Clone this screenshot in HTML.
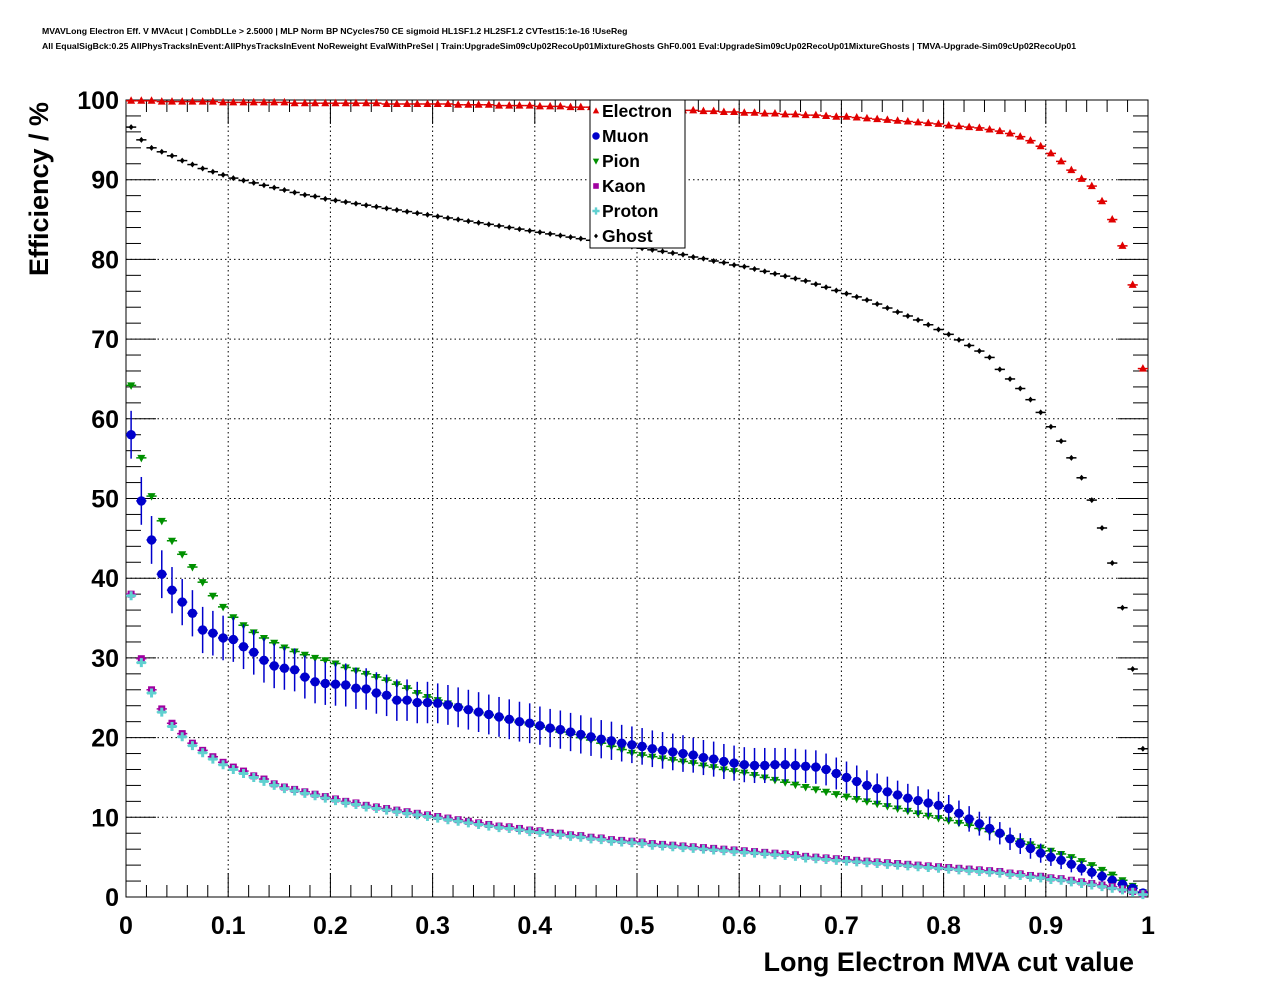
<!DOCTYPE html>
<html><head><meta charset="utf-8"><style>
body{margin:0;background:#fff;}
svg{display:block;font-family:"Liberation Sans",Arial,sans-serif;}
</style></head><body>
<svg id="chart" width="1276" height="996" viewBox="0 0 1276 996" xmlns="http://www.w3.org/2000/svg">
<rect width="1276" height="996" fill="#fff"/>
<text x="42" y="34" font-size="8.7" font-weight="bold">MVAVLong Electron Eff. V MVAcut | CombDLLe &gt; 2.5000 | MLP Norm BP NCycles750 CE sigmoid HL1SF1.2 HL2SF1.2 CVTest15:1e-16 !UseReg</text>
<text x="42" y="49" font-size="8.7" font-weight="bold">All EqualSigBck:0.25 AllPhysTracksInEvent:AllPhysTracksInEvent NoReweight EvalWithPreSel | Train:UpgradeSim09cUp02RecoUp01MixtureGhosts GhF0.001 Eval:UpgradeSim09cUp02RecoUp01MixtureGhosts | TMVA-Upgrade-Sim09cUp02RecoUp01</text>
<g id="grid"></g>
<g id="axes"></g>
<g id="series"></g>
<text x="48" y="189" font-size="27" font-weight="bold" text-anchor="middle" transform="rotate(-90 48 189)">Efficiency / %</text>
<text x="1134" y="971" font-size="27" font-weight="bold" text-anchor="end">Long Electron MVA cut value</text>
<g id="legend"></g>
</svg>
<script>
const xTicks = [0,0.1,0.2,0.3,0.4,0.5,0.6,0.7,0.8,0.9,1];
const xTickLabels = ["0","0.1","0.2","0.3","0.4","0.5","0.6","0.7","0.8","0.9","1"];
const yTicks = [0,10,20,30,40,50,60,70,80,90,100];
const yTickLabels = ["0","10","20","30","40","50","60","70","80","90","100"];
const nBins = 100;
const electron = [99.9,99.9,99.9,99.8,99.8,99.8,99.8,99.8,99.8,99.7,
99.7,99.7,99.7,99.7,99.7,99.7,99.6,99.6,99.6,99.6,
99.6,99.6,99.6,99.6,99.6,99.5,99.5,99.5,99.5,99.5,
99.5,99.5,99.4,99.4,99.4,99.4,99.3,99.3,99.3,99.3,
99.2,99.2,99.2,99.1,99.1,99.1,99.0,99.0,99.0,98.9,
98.9,98.9,98.8,98.8,98.7,98.7,98.6,98.6,98.5,98.5,
98.4,98.4,98.3,98.3,98.2,98.2,98.1,98.1,98.0,97.9,
97.9,97.8,97.7,97.6,97.5,97.4,97.3,97.2,97.1,97.0,
96.8,96.7,96.6,96.5,96.3,96.1,95.8,95.4,94.9,94.2,
93.3,92.3,91.2,90.1,89.2,87.3,85.0,81.7,76.8,66.3];
const muon = [58.0,49.7,44.8,40.5,38.5,37.0,35.6,33.5,33.1,32.5,
32.3,31.4,30.7,29.7,29.0,28.7,28.5,27.6,27.0,26.8,
26.7,26.6,26.2,26.1,25.6,25.3,24.7,24.7,24.4,24.4,
24.3,24.1,23.8,23.5,23.2,22.9,22.6,22.3,22.0,21.8,
21.5,21.2,21.0,20.7,20.4,20.1,19.8,19.6,19.3,19.1,
18.9,18.6,18.4,18.2,18.0,17.8,17.5,17.3,17.0,16.8,
16.6,16.5,16.5,16.6,16.6,16.5,16.4,16.3,16.0,15.5,
15.0,14.5,14.0,13.6,13.2,12.8,12.4,12.1,11.8,11.5,
11.1,10.5,9.8,9.2,8.6,8.0,7.3,6.7,6.1,5.5,
5.0,4.6,4.1,3.6,3.1,2.6,2.1,1.6,1.1,0.5];
const muonErr = [3.0,3.0,3.0,3.0,2.9,2.9,2.9,2.9,2.8,2.8,
2.8,2.8,2.8,2.8,2.8,2.7,2.7,2.7,2.7,2.7,
2.7,2.7,2.6,2.6,2.6,2.6,2.6,2.6,2.6,2.6,
2.5,2.5,2.5,2.5,2.5,2.5,2.5,2.5,2.5,2.5,
2.4,2.4,2.4,2.4,2.4,2.4,2.4,2.4,2.3,2.3,
2.3,2.3,2.3,2.3,2.3,2.2,2.2,2.2,2.2,2.2,
2.2,2.2,2.2,2.1,2.1,2.1,2.1,2.1,2.0,2.0,
2.0,2.0,1.9,1.9,1.9,1.8,1.8,1.8,1.7,1.7,
1.7,1.6,1.6,1.5,1.5,1.4,1.4,1.3,1.3,1.2,
1.1,1.1,1.0,0.9,0.8,0.7,0.6,0.5,0.4,0.3];
const pion = [64.2,55.1,50.3,47.2,44.7,43.0,41.4,39.5,37.8,36.4,
35.1,34.1,33.2,32.5,31.9,31.3,30.8,30.4,30.0,29.7,
29.3,28.8,28.4,28.0,27.6,27.2,26.7,26.2,25.6,25.1,
24.7,24.3,23.9,23.5,23.1,22.8,22.5,22.2,21.9,21.6,
21.3,21.0,20.7,20.4,20.0,19.7,19.3,18.9,18.5,18.1,
17.8,17.6,17.4,17.2,17.0,16.8,16.5,16.3,16.0,15.8,
15.6,15.3,15.0,14.7,14.4,14.1,13.8,13.5,13.2,12.9,
12.6,12.3,12.0,11.7,11.4,11.1,10.8,10.5,10.2,9.9,
9.6,9.3,9.0,8.6,8.2,7.8,7.4,7.0,6.6,6.2,
5.8,5.4,5.0,4.5,4.0,3.4,2.8,2.1,1.4,0.6];
const kaon = [38.0,29.9,26.0,23.6,21.8,20.5,19.3,18.4,17.6,16.9,
16.3,15.8,15.2,14.8,14.2,13.8,13.5,13.2,12.9,12.6,
12.3,12.0,11.8,11.5,11.3,11.1,10.9,10.7,10.5,10.3,
10.1,9.9,9.7,9.5,9.3,9.1,8.9,8.8,8.6,8.4,
8.3,8.1,8.0,7.8,7.7,7.5,7.4,7.2,7.1,7.0,
6.9,6.7,6.6,6.5,6.4,6.3,6.2,6.1,6.0,5.9,
5.8,5.7,5.6,5.5,5.4,5.3,5.1,5.0,4.9,4.8,
4.7,4.6,4.5,4.4,4.3,4.2,4.1,4.0,3.9,3.8,
3.7,3.6,3.5,3.4,3.3,3.2,3.0,2.9,2.7,2.6,
2.4,2.3,2.1,1.9,1.7,1.5,1.3,1.0,0.7,0.4];
const proton = [37.8,29.4,25.6,23.2,21.4,20.1,19.0,18.1,17.3,16.6,
16.0,15.5,15.0,14.5,14.0,13.6,13.3,13.0,12.7,12.4,
12.1,11.8,11.6,11.3,11.1,10.9,10.7,10.5,10.3,10.1,
9.9,9.7,9.5,9.3,9.1,8.9,8.7,8.6,8.4,8.2,
8.1,7.9,7.8,7.6,7.5,7.3,7.2,7.0,6.9,6.8,
6.7,6.5,6.4,6.3,6.2,6.1,6.0,5.9,5.8,5.7,
5.6,5.5,5.4,5.3,5.2,5.1,4.9,4.8,4.7,4.6,
4.5,4.4,4.3,4.2,4.1,4.0,3.9,3.8,3.7,3.6,
3.5,3.4,3.3,3.2,3.1,3.0,2.8,2.7,2.5,2.4,
2.2,2.1,1.9,1.7,1.5,1.3,1.1,0.9,0.6,0.3];
const ghost = [96.6,95.0,94.0,93.5,93.0,92.4,91.9,91.4,91.0,90.6,
90.2,89.9,89.6,89.3,89.0,88.7,88.4,88.1,87.9,87.6,
87.4,87.2,87.0,86.8,86.6,86.4,86.2,86.0,85.8,85.6,
85.4,85.2,85.0,84.8,84.6,84.4,84.2,84.0,83.8,83.6,
83.4,83.2,83.0,82.8,82.6,82.4,82.2,82.0,81.8,81.6,
81.4,81.2,81.0,80.8,80.6,80.3,80.1,79.8,79.6,79.3,
79.1,78.8,78.5,78.2,77.9,77.6,77.3,76.9,76.5,76.1,
75.7,75.3,74.9,74.4,73.9,73.4,72.9,72.4,71.8,71.2,
70.6,69.9,69.2,68.5,67.7,66.2,65.0,63.8,62.4,60.8,
59.0,57.2,55.1,52.6,49.8,46.3,41.9,36.3,28.6,18.6];

const NS = "http://www.w3.org/2000/svg";
const X0=126, X1=1148, Y0=897, Y1=100;
const xs = v => X0 + (X1-X0)*v;
const ys = v => Y0 - (Y0-Y1)*v/100;
function mk(tag, attrs, parent){
  const e=document.createElementNS(NS,tag);
  for(const k in attrs) e.setAttribute(k,attrs[k]);
  parent.appendChild(e); return e;
}
const grid=document.getElementById('grid'), axes=document.getElementById('axes'), series=document.getElementById('series'), legend=document.getElementById('legend');
xTicks.forEach((t,i)=>{ if(i>0&&i<xTicks.length-1){
  const l=mk('line',{x1:xs(t),x2:xs(t),y1:Y0,y2:Y1,stroke:'#000','stroke-width':1,'stroke-dasharray':'1.5,3'},grid);
  
  
}});
yTicks.forEach((t,i)=>{ if(i>0&&i<yTicks.length-1){
  const l=mk('line',{x1:X0,x2:X1,y1:ys(t),y2:ys(t),stroke:'#000','stroke-width':1,'stroke-dasharray':'1.5,3'},grid);
  
  
}});
const fr=mk('rect',{x:X0,y:Y1,width:X1-X0,height:Y0-Y1,fill:'none',stroke:'#000','stroke-width':1},axes);


for(let i=0;i<=50;i++){
  const v=i/50, len=(i%5===0)?24:12;
  mk('line',{x1:xs(v),x2:xs(v),y1:Y0,y2:Y0-len,stroke:'#000','stroke-width':1},axes);
  mk('line',{x1:xs(v),x2:xs(v),y1:Y1,y2:Y1+len,stroke:'#000','stroke-width':1},axes);
}
xTicks.forEach((t,i)=>{
  const tx=mk('text',{x:xs(t),y:934,'font-size':25,'font-weight':'bold','text-anchor':'middle'},axes);
  tx.textContent=xTickLabels[i];
  
  
});
for(let i=0;i<=50;i++){
  const v=i*2, len=(i%5===0)?30:15;
  mk('line',{x1:X0,x2:X0+len,y1:ys(v),y2:ys(v),stroke:'#000','stroke-width':1},axes);
  mk('line',{x1:X1,x2:X1-len,y1:ys(v),y2:ys(v),stroke:'#000','stroke-width':1},axes);
}
yTicks.forEach((t,i)=>{
  const tx=mk('text',{x:119,y:ys(t)+9,'font-size':25,'font-weight':'bold','text-anchor':'end'},axes);
  tx.textContent=yTickLabels[i];
  
  
});
function marker(type,cx,cy,color,parent){
  if(type==='tri-up') return mk('polygon',{points:`${cx},${cy-4.5} ${cx-4},${cy+3} ${cx+4},${cy+3}`,fill:color},parent);
  if(type==='tri-down') return mk('polygon',{points:`${cx},${cy+4.5} ${cx-4},${cy-3} ${cx+4},${cy-3}`,fill:color},parent);
  if(type==='circle') return mk('circle',{cx:cx,cy:cy,r:4.7,fill:color},parent);
  if(type==='square') return mk('rect',{x:cx-3.5,y:cy-3.5,width:7,height:7,fill:color},parent);
  if(type==='cross') return mk('path',{d:`M${cx-1.5},${cy-4.5}h3v3h3v3h-3v3h-3v-3h-3v-3h3z`,fill:color},parent);
  if(type==='diamond') return mk('polygon',{points:`${cx},${cy-3} ${cx-2.5},${cy} ${cx},${cy+3} ${cx+2.5},${cy}`,fill:color},parent);
}
const defs=[
 {name:'Electron',data:electron,err:null,color:'#e00000',type:'tri-up'},
 {name:'Muon',data:muon,err:muonErr,color:'#0000cc',type:'circle'},
 {name:'Pion',data:pion,err:null,color:'#009000',type:'tri-down'},
 {name:'Kaon',data:kaon,err:null,color:'#a000a0',type:'square'},
 {name:'Proton',data:proton,err:null,color:'#60d0d0',type:'cross'},
 {name:'Ghost',data:ghost,err:null,color:'#000000',type:'diamond'}
];
const drawOrder=[5,0,2,1,3,4];
drawOrder.forEach(si=>{
  const s=defs[si];
  const g=mk('g',{},series);
  
  
  s.data.forEach((v,i)=>{
    const xc=(i+0.5)/nBins;
    const cx=xs(xc), cy=ys(v);
    mk('line',{x1:xs(i/nBins),x2:xs((i+1)/nBins),y1:cy,y2:cy,stroke:s.color,'stroke-width':1.5},g);
    if(s.err){ mk('line',{x1:cx,x2:cx,y1:ys(v+s.err[i]),y2:ys(v-s.err[i]),stroke:s.color,'stroke-width':1.5},g); }
    const m=marker(s.type,cx,cy,s.color,g);
    
    
  });
});
const lb=mk('rect',{x:590,y:100,width:95,height:148,fill:'#fff',stroke:'#000','stroke-width':1},legend);


defs.forEach((s,i)=>{
  const y=111+i*25;
  const g=mk('g',{},legend);
  
  
  const m=marker(s.type,596,y,s.color,g);
  m.setAttribute('transform',`translate(596 ${y}) scale(0.8) translate(-596 ${-y})`);
  const t=mk('text',{x:602,y:y+6,'font-size':17.5,'font-weight':'bold'},g);
  t.textContent=s.name;
});
</script>
</body></html>
